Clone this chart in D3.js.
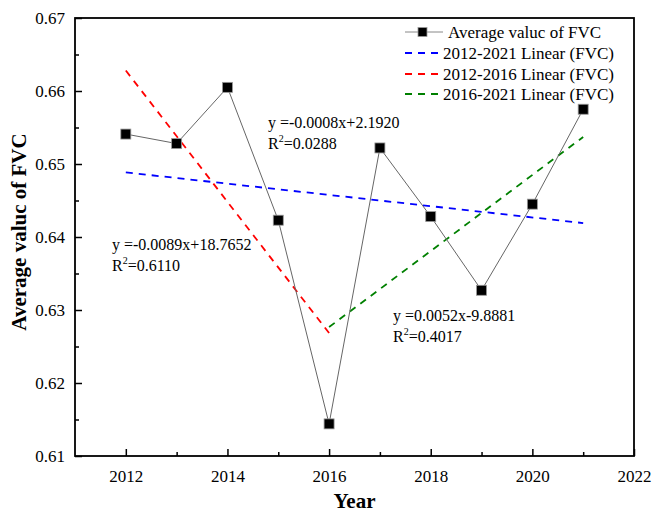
<!DOCTYPE html>
<html>
<head>
<meta charset="utf-8">
<script src="https://cdn.jsdelivr.net/npm/d3@7"></script>
<style>
  html, body { margin: 0; padding: 0; background: #fff; }
  svg { display: block; font-family: "Liberation Serif", "Times New Roman", serif; }
  svg text { font-family: "Liberation Serif", "Times New Roman", serif; }
</style>
</head>
<body>
<svg id="chart" width="653" height="512"></svg>
<script>
// Yearly mean FVC
const years = [2012, 2013, 2014, 2015, 2016, 2017, 2018, 2019, 2020, 2021];
const fvc = [0.6541, 0.6528, 0.6605, 0.6423, 0.6144, 0.6522, 0.6428, 0.6327, 0.6445, 0.6575];

// Trend fit periods
const fitNames = ["2012-2021 Linear (FVC)", "2012-2016 Linear (FVC)", "2016-2021 Linear (FVC)"];
const fitRanges = [[2012, 2021], [2012, 2016], [2016, 2021]];
const fitColors = ["#0000ff", "#ff0000", "#008000"];
const fitEquations = [
  ["y =-0.0008x+2.1920", "0.0288"],
  ["y =-0.0089x+18.7652", "0.6110"],
  ["y =0.0052x-9.8881", "0.4017"]
];

const xTicks = [2012, 2014, 2016, 2018, 2020, 2022];
const yTicks = [0.61, 0.62, 0.63, 0.64, 0.65, 0.66, 0.67];

const svg = d3.select("#chart");
const L = 75, R = 634, T = 18, B = 456;

const x = d3.scaleLinear().domain([2011, 2022]).range([L, R]);
const y = d3.scaleLinear().domain([0.61, 0.67]).range([B, T]);

// least squares fit over a year window
function fit(y0, y1) {
  const pts = years.map((yr, i) => [yr, fvc[i]]).filter(p => p[0] >= y0 && p[0] <= y1);
  const mx = d3.mean(pts, p => p[0]), my = d3.mean(pts, p => p[1]);
  const sxy = d3.sum(pts, p => (p[0] - mx) * (p[1] - my));
  const sxx = d3.sum(pts, p => (p[0] - mx) ** 2);
  const k = sxy / sxx, b = my - k * mx;
  return [[y0, k * y0 + b], [y1, k * y1 + b]];
}

// axes: ticks point inward
const xAxis = d3.axisBottom(x).tickValues(xTicks).tickFormat(d3.format("d")).tickSizeInner(-7).tickSizeOuter(0).tickPadding(14);
const xMinor = d3.axisBottom(x).tickValues(d3.range(2013, 2022, 2)).tickFormat("").tickSizeInner(-4).tickSizeOuter(0);
const yAxis = d3.axisLeft(y).tickValues(yTicks).tickFormat(d3.format(".2f")).tickSizeInner(-7).tickSizeOuter(0).tickPadding(10);
const yMinor = d3.axisLeft(y).tickValues(d3.range(0.615, 0.67, 0.01)).tickFormat("").tickSizeInner(-4).tickSizeOuter(0);

function styleAxis(g) {
  g.attr("font-family", null).attr("font-size", null);
  g.select(".domain").remove();
  g.selectAll("line").attr("stroke", "#000").attr("stroke-width", 1.5);
  g.selectAll("text")
    .style("font-family", "'Liberation Serif', 'Times New Roman', serif")
    .style("font-size", "17px")
    .attr("fill", "#000");
}

svg.append("g").attr("transform", `translate(0,${B})`).call(xAxis).call(styleAxis);
svg.append("g").attr("transform", `translate(0,${B})`).call(xMinor).call(styleAxis);
svg.append("g").attr("transform", `translate(${L},0)`).call(yAxis).call(styleAxis);
svg.append("g").attr("transform", `translate(${L},0)`).call(yMinor).call(styleAxis);

// frame
svg.append("rect").attr("x", L).attr("y", T).attr("width", R - L).attr("height", B - T)
  .attr("fill", "none").attr("stroke", "#000").attr("stroke-width", 1.8);

// trend lines
const line = d3.line().x(d => x(d[0])).y(d => y(d[1]));
fitRanges.forEach((r, i) => {
  svg.append("path").datum(fit(r[0], r[1])).attr("d", line)
    .attr("fill", "none").attr("stroke", fitColors[i]).attr("stroke-width", 1.8)
    .attr("stroke-dasharray", "7,6");
});

// data line and markers
svg.append("path").datum(years.map((yr, i) => [yr, fvc[i]])).attr("d", line)
  .attr("fill", "none").attr("stroke", "#666").attr("stroke-width", 1);
svg.append("g").selectAll("rect").data(years).join("rect")
  .attr("x", (d) => x(d) - 5).attr("y", (d, i) => y(fvc[i]) - 5)
  .attr("width", 10).attr("height", 10)
  .attr("fill", "#000").attr("stroke", "#999").attr("stroke-width", 0.8);

// fit equations
const eqPos = [[268, 128], [112, 250], [393, 321]];
fitEquations.forEach((e, i) => {
  const [ex, ey] = eqPos[i];
  svg.append("text").attr("x", ex).attr("y", ey).attr("font-size", 16).text(e[0]);
  const t = svg.append("text").attr("x", ex).attr("y", ey + 21).attr("font-size", 16);
  t.append("tspan").text("R");
  t.append("tspan").attr("font-size", 10).attr("dy", -7).text("2");
  t.append("tspan").attr("dy", 7).text("=" + e[1]);
});

// legend
const lg = svg.append("g");
const rowY = [32, 53, 74, 94];
lg.append("line").attr("x1", 405).attr("x2", 443).attr("y1", rowY[0]).attr("y2", rowY[0])
  .attr("stroke", "#888").attr("stroke-width", 1);
lg.append("rect").attr("x", 418).attr("y", rowY[0] - 4.5).attr("width", 9).attr("height", 9)
  .attr("fill", "#000").attr("stroke", "#999").attr("stroke-width", 0.8);
lg.append("text").attr("x", 448).attr("y", rowY[0] + 6).attr("font-size", 17).text("Average valuc of FVC");
fitNames.forEach((n, i) => {
  const ry = rowY[i + 1];
  lg.append("line").attr("x1", 405).attr("x2", 443).attr("y1", ry).attr("y2", ry)
    .attr("stroke", fitColors[i]).attr("stroke-width", 1.8).attr("stroke-dasharray", "7,6");
  lg.append("text").attr("x", 443).attr("y", ry + 6).attr("font-size", 17).text(n);
});

// axis titles
svg.append("text").attr("x", (L + R) / 2).attr("y", 508).attr("text-anchor", "middle")
  .attr("font-size", 21).attr("font-weight", "bold").text("Year");
svg.append("text").attr("transform", "translate(26,232) rotate(-90)").attr("text-anchor", "middle")
  .attr("font-size", 21).attr("font-weight", "bold").text("Average valuc of FVC");
</script>
</body>
</html>
